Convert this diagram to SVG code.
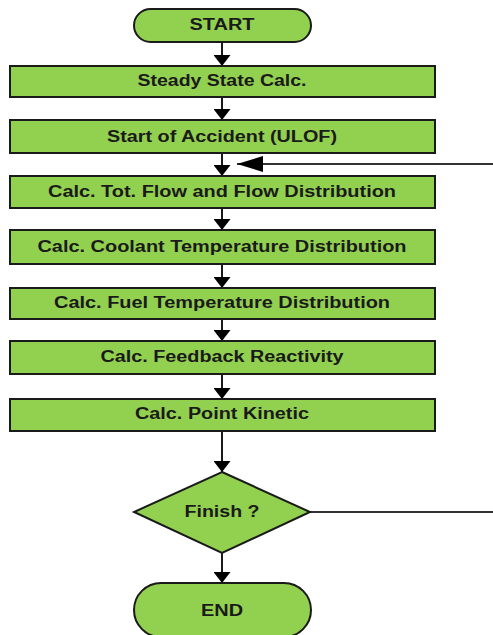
<svg xmlns="http://www.w3.org/2000/svg" width="493" height="635" viewBox="0 0 493 635">
<style>
.shape{fill:#92d050;stroke:#1a1a1a;stroke-width:2}
.lbl{font-family:"Liberation Sans",Arial,sans-serif;font-weight:bold;font-size:16px;fill:#1a1a1a;text-anchor:middle}
.conn{fill:none;stroke:#1a1a1a;stroke-width:2}
.fb{fill:none;stroke:#333;stroke-width:1.8}
</style>
<defs>
<marker id="arrowV" markerUnits="userSpaceOnUse" viewBox="0 0 11 17" refX="11" refY="8.5" markerWidth="11" markerHeight="17" orient="auto">
<path d="M0,0 L11,8.5 L0,17 z" fill="#000"/>
</marker>
<marker id="arrowH" markerUnits="userSpaceOnUse" viewBox="0 0 26 16" refX="26" refY="8" markerWidth="26" markerHeight="16" orient="auto">
<path d="M0,0 L26,8 L0,16 z" fill="#000"/>
</marker>
</defs>
<g id="connectors">
<path class="conn" d="M222,42 V66" marker-end="url(#arrowV)"/>
<path class="conn" d="M222,97 V120" marker-end="url(#arrowV)"/>
<path class="conn" d="M222,153 V176" marker-end="url(#arrowV)"/>
<path class="conn" d="M222,208 V230" marker-end="url(#arrowV)"/>
<path class="conn" d="M222,264 V288" marker-end="url(#arrowV)"/>
<path class="conn" d="M222,319 V341" marker-end="url(#arrowV)"/>
<path class="conn" d="M222,374 V399" marker-end="url(#arrowV)"/>
<path class="conn" d="M222,431 V472" marker-end="url(#arrowV)"/>
<path class="conn" d="M222,553 V583" marker-end="url(#arrowV)"/>
<path class="fb" d="M310,512 H493"/>
<path class="fb" d="M493,164 H237" marker-end="url(#arrowH)"/>
</g>
<g id="start">
<rect class="shape" x="134" y="9" width="177" height="33" rx="16.5"/>
<text class="lbl" x="222" y="30" textLength="65" lengthAdjust="spacingAndGlyphs">START</text>
</g>
<g id="steady">
<rect class="shape" x="10" y="66" width="425" height="31"/>
<text class="lbl" x="222" y="86" textLength="169" lengthAdjust="spacingAndGlyphs">Steady State Calc.</text>
</g>
<g id="accident">
<rect class="shape" x="10" y="120" width="425" height="33"/>
<text class="lbl" x="222" y="142" textLength="230" lengthAdjust="spacingAndGlyphs">Start of Accident (ULOF)</text>
</g>
<g id="flow">
<rect class="shape" x="10" y="176" width="425" height="32"/>
<text class="lbl" x="222" y="197" textLength="348" lengthAdjust="spacingAndGlyphs">Calc. Tot. Flow and Flow Distribution</text>
</g>
<g id="coolant">
<rect class="shape" x="10" y="230" width="425" height="34"/>
<text class="lbl" x="222" y="252" textLength="369" lengthAdjust="spacingAndGlyphs">Calc. Coolant Temperature Distribution</text>
</g>
<g id="fuel">
<rect class="shape" x="10" y="288" width="425" height="31"/>
<text class="lbl" x="222" y="308" textLength="336" lengthAdjust="spacingAndGlyphs">Calc. Fuel Temperature Distribution</text>
</g>
<g id="feedback">
<rect class="shape" x="10" y="341" width="425" height="33"/>
<text class="lbl" x="222" y="362" textLength="243" lengthAdjust="spacingAndGlyphs">Calc. Feedback Reactivity</text>
</g>
<g id="kinetic">
<rect class="shape" x="10" y="399" width="425" height="32"/>
<text class="lbl" x="222" y="419" textLength="174" lengthAdjust="spacingAndGlyphs">Calc. Point Kinetic</text>
</g>
<g id="finish">
<polygon class="shape" points="222,472 310,512 222,553 134,512"/>
<text class="lbl" x="222" y="517" textLength="75" lengthAdjust="spacingAndGlyphs">Finish ?</text>
</g>
<g id="end">
<rect class="shape" x="134" y="583" width="177" height="54" rx="27"/>
<text class="lbl" x="222" y="616" textLength="42" lengthAdjust="spacingAndGlyphs">END</text>
</g>
</svg>
